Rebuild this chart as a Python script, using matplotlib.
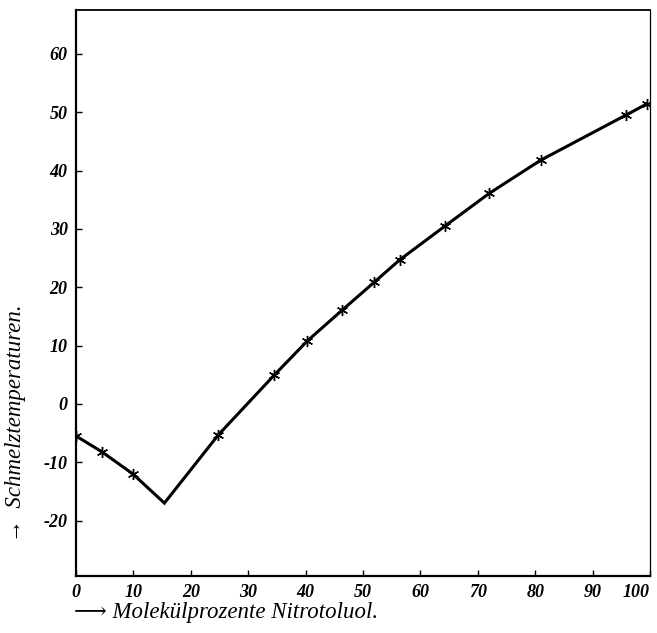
import matplotlib
matplotlib.use("Agg")
import matplotlib.pyplot as plt

# measured melting points (mol-% nitrotoluene, temperature)
mol_pct = [0, 4.5, 9.9, 24.8, 34.5, 40.3, 46.4, 52.0, 56.4, 64.3, 72.0, 81.0, 95.8, 99.4]
temp = [-5.5, -8.2, -12.0, -5.3, 4.9, 10.8, 16.1, 20.9, 24.7, 30.5, 36.1, 41.8, 49.5, 51.4]

# eutectic point (corner of the curve, no marker)
eut_x = 15.4
eut_y = -17.0

x_ticks = [0, 10, 20, 30, 40, 50, 60, 70, 80, 90, 100]
y_ticks = [-20, -10, 0, 10, 20, 30, 40, 50, 60]

serif = ['Liberation Serif', 'DejaVu Serif', 'DejaVu Sans']
plt.rcParams['font.family'] = serif

fig = plt.figure(figsize=(6.57, 6.33), dpi=100)
ax = fig.add_axes([0.1157, 0.090, 0.8736, 0.894])

# curve through the points, both branches meet at the eutectic
left = [(x, y) for x, y in zip(mol_pct, temp) if x < eut_x]
right = [(x, y) for x, y in zip(mol_pct, temp) if x > eut_x]
curve = left + [(eut_x, eut_y)] + right
ax.plot([p[0] for p in curve], [p[1] for p in curve], color='black', lw=2.2,
        solid_joinstyle='miter')
ax.plot(mol_pct, temp, linestyle='none', marker=(6, 2, 0), markersize=8,
        markeredgewidth=1.0, color='black')

ax.set_xlim(0, 100)
ax.set_ylim(-29.5, 67.5)

ax.set_xticks(x_ticks)
ax.set_yticks(y_ticks)
ax.set_xticklabels([str(v) for v in x_ticks])
ax.set_yticklabels([str(v) for v in y_ticks])
ax.tick_params(axis='both', direction='in', length=4, width=1.0,
               labelsize=13, pad=6)
for lab in ax.get_xticklabels() + ax.get_yticklabels():
    lab.set_fontstyle('italic')
    lab.set_fontweight('bold')
# last x label sits against the right edge
ax.get_xticklabels()[-1].set_horizontalalignment('right')

ax.spines['left'].set_linewidth(1.6)
ax.spines['bottom'].set_linewidth(1.6)
ax.spines['top'].set_linewidth(1.3)
ax.spines['right'].set_linewidth(0.9)

fig.text(0.113, 0.032, '\u27f6 Molekülprozente Nitrotoluol.', fontsize=16.5,
         style='italic', ha='left', va='center')
fig.text(0.024, 0.332, '\u2192  Schmelztemperaturen.', fontsize=16.5,
         style='italic', rotation=90, ha='center', va='center')

fig.savefig('out.png', dpi=100)
